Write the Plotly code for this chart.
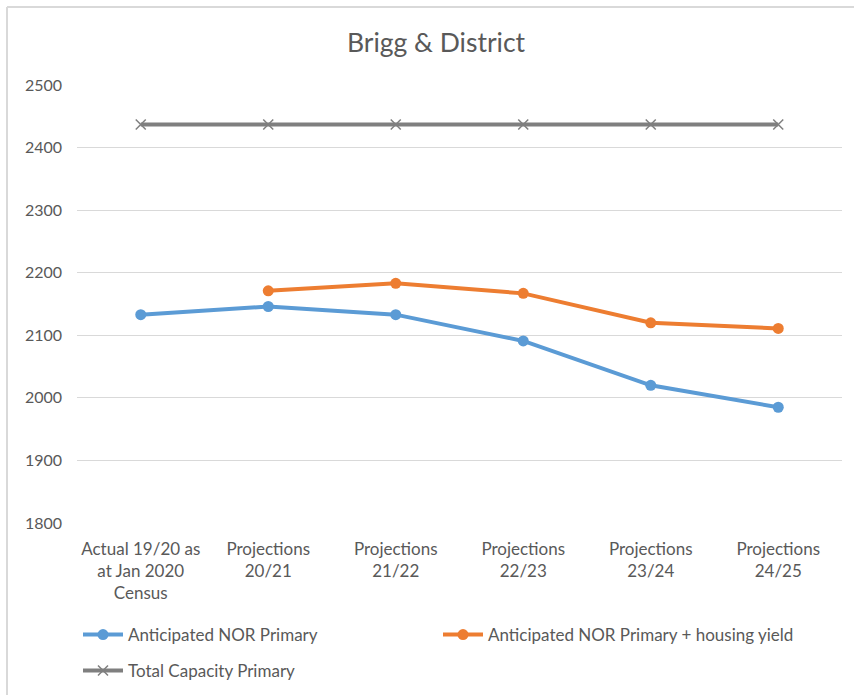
import plotly.graph_objects as go

# ---- data ----
categories = [
    "Actual 19/20 as<br>at Jan 2020<br>Census",
    "Projections<br>20/21",
    "Projections<br>21/22",
    "Projections<br>22/23",
    "Projections<br>23/24",
    "Projections<br>24/25",
]
nor_primary = [2133, 2146, 2133, 2091, 2020, 1985]
nor_housing = [None, 2171, 2183, 2167, 2120, 2111]
capacity = [2437, 2437, 2437, 2437, 2437, 2437]

FONT = "Lato, 'Open Sans', sans-serif"
TEXT = "#595959"

W, H = 854, 695
L, R, T, B = 77, 12, 85, 172

fig = go.Figure()
fig.add_trace(go.Scatter(
    x=categories, y=nor_primary, name="Anticipated NOR Primary",
    mode="lines+markers", line=dict(color="#5b9bd5", width=4),
    marker=dict(size=11, color="#5b9bd5"), legend="legend"))
fig.add_trace(go.Scatter(
    x=categories, y=nor_housing, name="Anticipated NOR Primary + housing yield",
    mode="lines+markers", line=dict(color="#ed7d31", width=4),
    marker=dict(size=11, color="#ed7d31"), legend="legend"))
fig.add_trace(go.Scatter(
    x=categories, y=capacity, name="Total Capacity Primary",
    mode="lines+markers", line=dict(color="#7f7f7f", width=4),
    marker=dict(symbol="x-thin", size=10, color="#7f7f7f",
                line=dict(color="#7f7f7f", width=1.5)), legend="legend2"))

# chart-area border (only left and top edges visible in the crop)
pw = W - L - R
ph = H - T - B
def px_x(v):
    return (v - L) / pw
def px_y(v):
    return 1 - (v - T) / ph
border = dict(color="#d9d9d9", width=2)
fig.add_shape(type="line", xref="paper", yref="paper",
              x0=px_x(7), x1=px_x(7), y0=px_y(7), y1=px_y(700), line=border)
fig.add_shape(type="line", xref="paper", yref="paper",
              x0=px_x(7), x1=px_x(860), y0=px_y(7), y1=px_y(7), line=border)

legend_common = dict(orientation="h", xanchor="left", yanchor="top",
                     xref="container", yref="container",
                     entrywidth=305, entrywidthmode="pixels",
                     font=dict(size=17, color=TEXT), itemwidth=40,
                     bgcolor="rgba(0,0,0,0)")

fig.update_layout(
    width=W, height=H,
    margin=dict(l=L, r=R, t=T, b=B, autoexpand=False),
    paper_bgcolor="white", plot_bgcolor="white",
    font=dict(family=FONT, color=TEXT, size=16),
    title=dict(text="Brigg & District", x=(436 / W), xanchor="center",
               y=1 - 43 / H, yanchor="middle",
               font=dict(size=26.5, color=TEXT, family=FONT)),
    xaxis=dict(range=[-0.5, len(categories) - 0.5],
               showgrid=False, showline=False, ticks="", automargin=False,
               ticklabelstandoff=14,
               tickfont=dict(size=17, color=TEXT)),
    yaxis=dict(range=[1800, 2500], dtick=100, showgrid=True, automargin=False,
               gridcolor="#d9d9d9", gridwidth=1, zeroline=False,
               showline=False, ticks="", ticklabelstandoff=14,
               tickfont=dict(size=16, color=TEXT)),
    legend=dict(x=78 / W, y=1 - 617 / H, **legend_common),
    legend2=dict(x=78 / W, y=1 - 653 / H, **legend_common),
    showlegend=True,
)

fig.write_html("out.html", config={"displayModeBar": False},
               post_script="document.body.style.margin='0px';")
